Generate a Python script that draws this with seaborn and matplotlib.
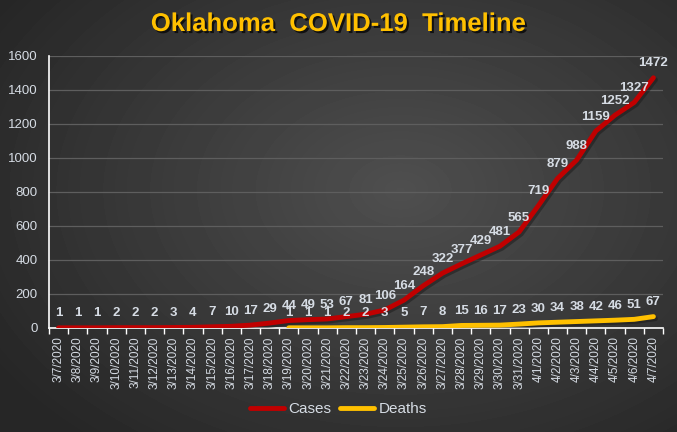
import numpy as np
import pandas as pd
import matplotlib
matplotlib.use("Agg")
import matplotlib.pyplot as plt
import matplotlib.patheffects as pe
import seaborn as sns

# --- Data ---
dates = ["3/7/2020", "3/8/2020", "3/9/2020", "3/10/2020", "3/11/2020", "3/12/2020",
         "3/13/2020", "3/14/2020", "3/15/2020", "3/16/2020", "3/17/2020", "3/18/2020",
         "3/19/2020", "3/20/2020", "3/21/2020", "3/22/2020", "3/23/2020", "3/24/2020",
         "3/25/2020", "3/26/2020", "3/27/2020", "3/28/2020", "3/29/2020", "3/30/2020",
         "3/31/2020", "4/1/2020", "4/2/2020", "4/3/2020", "4/4/2020", "4/5/2020",
         "4/6/2020", "4/7/2020"]
cases = [1, 1, 1, 2, 2, 2, 3, 4, 7, 10, 17, 29, 44, 49, 53, 67, 81, 106, 164, 248,
         322, 377, 429, 481, 565, 719, 879, 988, 1159, 1252, 1327, 1472]
deaths = [np.nan] * 12 + [1, 1, 1, 2, 2, 3, 5, 7, 8, 15, 16, 17, 23, 30, 34, 38,
                          42, 46, 51, 67]

df = pd.DataFrame({"pos": range(len(dates)), "Cases": cases, "Deaths": deaths})
long_df = df.melt(id_vars="pos", var_name="series", value_name="count")

TEXT = "#d6dce4"
RED = "#c00000"
GOLD = "#ffc000"

sns.set_theme(style="dark")
plt.rcParams["font.family"] = ["Liberation Sans", "DejaVu Sans"]

fig = plt.figure(figsize=(6.77, 4.32), dpi=100)

# radial gradient background
bg = fig.add_axes([0, 0, 1, 1], zorder=-10)
yy, xx = np.mgrid[0:432, 0:677]
r = np.sqrt(((xx - 400) / 480.0) ** 2 + ((yy - 190) / 330.0) ** 2)
shade = np.clip(0.31 - 0.16 * r, 0.15, 0.31)
bg.imshow(shade, cmap="gray", vmin=0, vmax=1, aspect="auto", extent=[0, 1, 0, 1])
bg.axis("off")

ax = fig.add_axes([49 / 677, 1 - 328 / 432, (663 - 49) / 677, (328 - 56) / 432])
ax.patch.set_alpha(0)

sns.lineplot(data=long_df, x="pos", y="count", hue="series",
             palette={"Cases": RED, "Deaths": GOLD}, linewidth=3.5, ax=ax,
             legend=False, zorder=3,
             path_effects=[pe.SimpleLineShadow(offset=(1.5, -1.5), alpha=0.5),
                           pe.Normal()])

# data labels
for i, v in enumerate(cases):
    ax.annotate(str(v), (i, v), xytext=(0, 6), textcoords="offset points",
                ha="center", va="bottom", fontsize=9.5, fontweight="bold",
                color=TEXT, zorder=5)
for i, v in enumerate(deaths):
    if not np.isnan(v):
        ax.annotate(str(int(v)), (i, v), xytext=(0, 6), textcoords="offset points",
                    ha="center", va="bottom", fontsize=9.5, fontweight="bold",
                    color=TEXT, zorder=5)

ax.set_xlim(-0.5, len(dates) - 0.5)
ax.set_ylim(0, 1600)
ax.set_yticks(range(0, 1601, 200))
ax.set_xticks(range(len(dates)))
ax.set_xticklabels(dates, rotation=90, fontsize=8.5, color=TEXT)
ax.set_xticks(np.arange(-0.5, len(dates), 1), minor=True)
ax.tick_params(axis="x", which="major", length=0, pad=6)
ax.tick_params(axis="x", which="minor", length=4, width=1, color="white",
               direction="out", bottom=True)
ax.tick_params(axis="y", length=0, labelsize=9.5, labelcolor=TEXT, pad=8)
ax.set_xlabel("")
ax.set_ylabel("")

ax.grid(axis="y", color="#5e5e5e", linewidth=0.9)
ax.grid(axis="x", visible=False)
for side in ["top", "right"]:
    ax.spines[side].set_visible(False)
for side in ["left", "bottom"]:
    ax.spines[side].set_visible(True)
    ax.spines[side].set_color("white")
    ax.spines[side].set_linewidth(1.2)

# title
fig.text(0.5, 1 - 24 / 432, "Oklahoma  COVID-19  Timeline", ha="center", va="center",
         fontsize=18.5, fontweight="bold", color=GOLD,
         path_effects=[pe.withSimplePatchShadow(offset=(1.5, -1.5), shadow_rgbFace="black",
                                                alpha=0.7)])

# legend
handles = [plt.Line2D([], [], color=RED, linewidth=3.5),
           plt.Line2D([], [], color=GOLD, linewidth=3.5)]
fig.legend(handles, ["Cases", "Deaths"], loc="center", bbox_to_anchor=(0.5, 1 - 409 / 432),
           ncol=2, frameon=False, fontsize=11, labelcolor=TEXT, handlelength=2.2,
           columnspacing=0.6, handletextpad=0.3)

fig.savefig("out.png", dpi=100)
